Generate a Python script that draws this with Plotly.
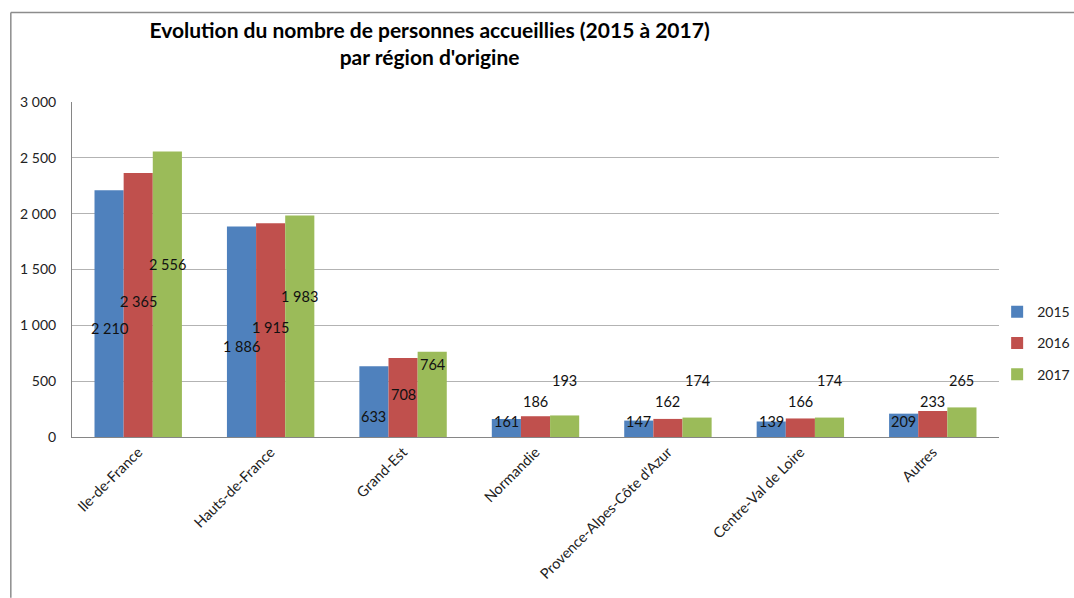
import plotly.graph_objects as go

regions = ['Ile-de-France', 'Hauts-de-France', 'Grand-Est', 'Normandie',
           "Provence-Alpes-Côte d'Azur", 'Centre-Val de Loire', 'Autres']
years = ['2015', '2016', '2017']
values_2015 = [2210, 1886, 633, 161, 147, 139, 209]
values_2016 = [2365, 1915, 708, 186, 162, 166, 233]
values_2017 = [2556, 1983, 764, 193, 174, 174, 265]

colors = ['#4F81BD', '#C0504D', '#9BBB59']
font_family = 'Lato, "Open Sans", sans-serif'

y_max = 3000
plot_h = 335
bargap = 0.34
units_per_px = y_max / plot_h
bar_w = (1 - bargap) / 3

# label placement (px): shift from bar middle, and minimum height above baseline
label_shift = [-15, 3, 30]
label_floor = [16, 36, 57]


def fmt(v):
    return f'{v:,}'.replace(',', ' ')


fig = go.Figure()
annotations = []
for s, (year, vals) in enumerate(zip(years, [values_2015, values_2016, values_2017])):
    fig.add_trace(go.Bar(
        x=regions,
        y=vals,
        name=year,
        legendgroup=year,
        marker=dict(color=colors[s], line=dict(width=0)),
    ))
    for i, v in enumerate(vals):
        y_lab = max(v / 2 + label_shift[s] * units_per_px, label_floor[s] * units_per_px)
        annotations.append(dict(
            x=i + (s - 1) * bar_w, y=y_lab, xref='x', yref='y',
            text=fmt(v), showarrow=False,
            font=dict(family=font_family, size=14.5, color='#111111'),
        ))

# outer chart frame (top and left edges visible)
shapes = [
    dict(type='line', xref='paper', yref='paper', x0=-0.066, x1=1.09, y0=1.267, y1=1.267,
         line=dict(color='#8c8c8c', width=1.5)),
    dict(type='line', xref='paper', yref='paper', x0=-0.066, x1=-0.066, y0=1.267, y1=-0.48,
         line=dict(color='#8c8c8c', width=1.5)),
]

fig.update_layout(
    width=1074,
    height=598,
    margin=dict(l=72, r=75, t=102, b=161, autoexpand=False),
    paper_bgcolor='white',
    plot_bgcolor='white',
    barmode='group',
    bargap=bargap,
    bargroupgap=0,
    separators=', ',
    font=dict(family=font_family, size=14, color='#222222'),
    title=dict(
        text='<b>Evolution du nombre de personnes accueillies (2015 à 2017)<br>par région d\'origine</b>',
        x=0.4, xref='container', xanchor='center',
        y=0.937, yref='container', yanchor='middle',
        font=dict(family=font_family, size=21, color='#000000'),
    ),
    xaxis=dict(
        type='category',
        tickangle=-45,
        showgrid=False,
        showline=True,
        linecolor='#868686',
        linewidth=1,
        ticks='',
        tickfont=dict(size=14.5, color='#222222'),
    ),
    yaxis=dict(
        range=[0, y_max],
        dtick=500,
        tickformat=',d',
        showgrid=True,
        gridcolor='#b3b3b3',
        gridwidth=1,
        showline=True,
        linecolor='#868686',
        linewidth=1,
        zeroline=False,
        ticks='',
        ticklabelstandoff=12,
        tickfont=dict(size=14, color='#222222'),
    ),
    legend=dict(
        x=0.998, xanchor='left',
        y=0.28, yanchor='middle',
        traceorder='grouped',
        tracegroupgap=10,
        itemwidth=30,
        font=dict(size=14, color='#222222'),
        bgcolor='rgba(0,0,0,0)',
    ),
    annotations=annotations,
    shapes=shapes,
)

fig.write_html('out.html', config={'displayModeBar': False},
               post_script="document.body.style.margin='0';")
